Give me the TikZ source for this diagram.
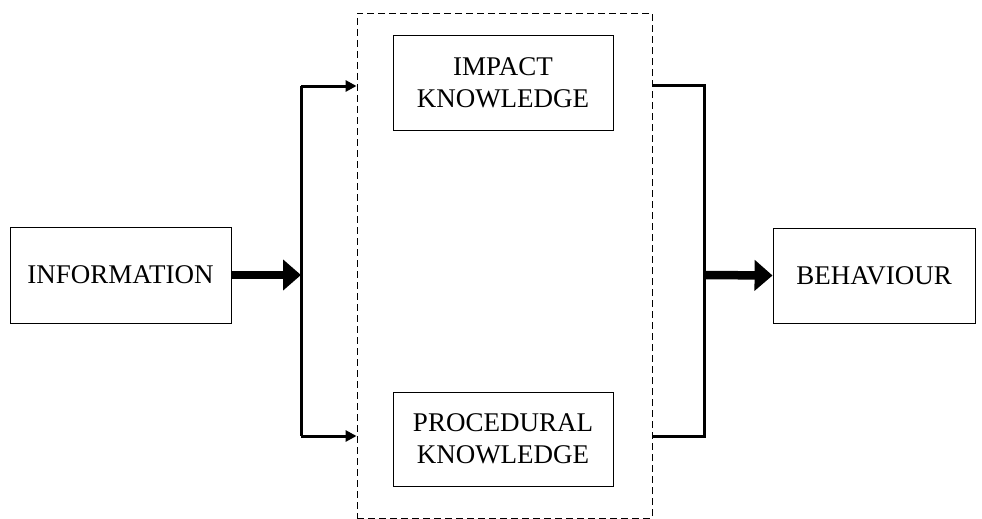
\documentclass[tikz,border=0pt]{standalone}
\usepackage{fontspec}
\setmainfont{Liberation Serif}
\usetikzlibrary{arrows.meta}

\tikzset{
	block/.style={draw, line width=0.9pt, inner sep=0pt, align=center,
		font=\fontsize{27}{32}\selectfont},
	wire/.style={line width=3pt},
	fatarrow/.style={line width=8.5pt, -{Triangle[length=18pt,width=30pt]}},
	tip/.style={-{Triangle[length=11pt,width=11pt]}}
}

\begin{document}
\begin{tikzpicture}[x=1pt, y=-1pt]
			%%%%% START %%%%%
			
			\useasboundingbox (0, 0) rectangle (982, 519);
			
			\node[block, minimum width=221, minimum height=96] (info) at (120.5, 275) {INFORMATION};
			\node[block, minimum width=220, minimum height=95] (impact) at (503, 82.5) {IMPACT\\KNOWLEDGE};
			\node[block, minimum width=220, minimum height=94] (proc) at (503, 439) {PROCEDURAL\\KNOWLEDGE};
			\node[block, minimum width=202, minimum height=95] (behav) at (874, 275.5) {BEHAVIOUR};
			
			\node[draw, line width=0.9pt, dash pattern=on 7pt off 4pt, inner sep=0pt,
				minimum width=295, minimum height=505] (group) at (504.5, 265.5) {};
			
			\coordinate (lt) at (301, 86);
			\coordinate (lb) at (301, 436);
			\coordinate (lm) at (301, 275);
			\coordinate (rt) at (704, 85);
			\coordinate (rb) at (704, 436);
			\coordinate (rm) at (704, 275);
			
			\draw[wire] (lt) -- (lb);
			\draw[wire, tip] (lt) -- (lt -| group.west);
			\draw[wire, tip] (lb) -- (lb -| group.west);
			\draw[fatarrow] (info.east) -- (lm);
			
			\draw[wire] (rt -| group.east) -- (rt) -- (rb) -- (rb -| group.east);
			\draw[fatarrow] (rm) -- (behav.west);
			
			%%%%% END %%%%%
\end{tikzpicture}
\end{document}
